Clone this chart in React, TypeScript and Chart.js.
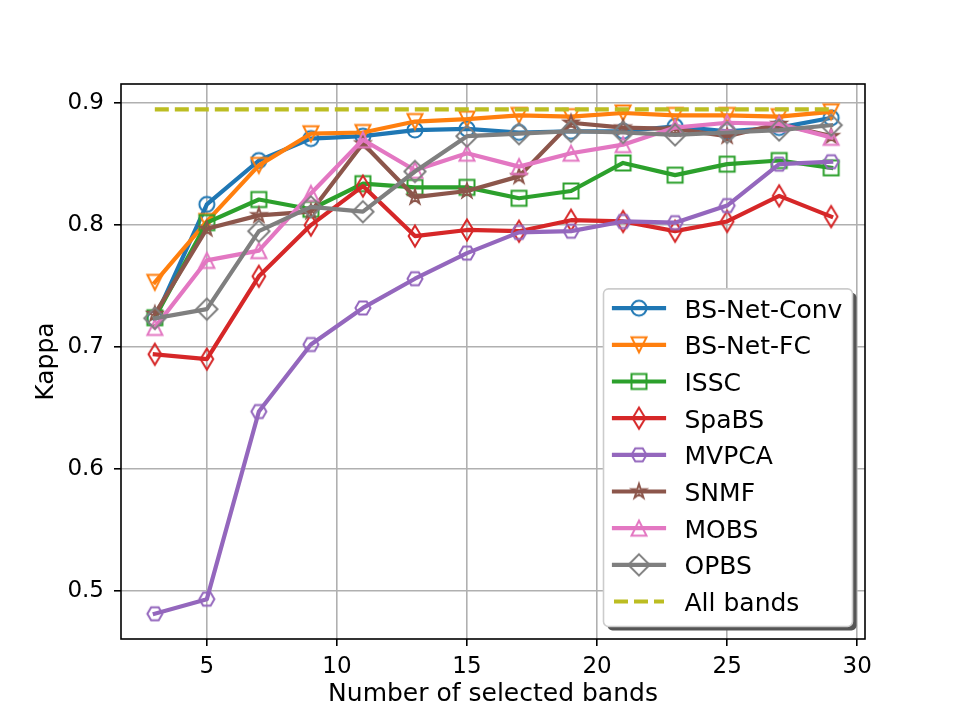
import { useEffect, useRef } from "react";
import { Chart, registerables } from "chart.js";

Chart.register(...registerables);

// Number of selected bands (x) and Kappa per method (y)
const bandCounts = [3, 5, 7, 9, 11, 13, 15, 17, 19, 21, 23, 25, 27, 29];

const bsNetConv = [0.723, 0.817, 0.853, 0.871, 0.873, 0.878, 0.879, 0.876, 0.877, 0.877, 0.881, 0.877, 0.880, 0.888];
const bsNetFc = [0.753, 0.803, 0.849, 0.875, 0.876, 0.885, 0.887, 0.890, 0.889, 0.892, 0.890, 0.890, 0.889, 0.893];
const issc = [0.724, 0.802, 0.821, 0.813, 0.834, 0.831, 0.831, 0.822, 0.828, 0.851, 0.841, 0.850, 0.853, 0.847];
const spaBs = [0.694, 0.690, 0.758, 0.800, 0.832, 0.791, 0.796, 0.795, 0.804, 0.803, 0.795, 0.803, 0.824, 0.807];
const mvpca = [0.481, 0.493, 0.647, 0.702, 0.732, 0.756, 0.777, 0.794, 0.795, 0.803, 0.802, 0.816, 0.850, 0.852];
const snmf = [0.727, 0.797, 0.808, 0.811, 0.867, 0.823, 0.828, 0.840, 0.884, 0.880, 0.879, 0.873, 0.883, 0.873];
const mobs = [0.716, 0.771, 0.779, 0.826, 0.870, 0.845, 0.859, 0.848, 0.859, 0.866, 0.880, 0.884, 0.883, 0.872];
const opbs = [0.7235, 0.731, 0.795, 0.815, 0.811, 0.844, 0.873, 0.875, 0.877, 0.876, 0.874, 0.876, 0.878, 0.882];
const allBandsKappa = 0.895;

const xTickValues = [5, 10, 15, 20, 25, 30];
const yTickValues = [0.5, 0.6, 0.7, 0.8, 0.9];

const seriesLabels = ["BS-Net-Conv", "BS-Net-FC", "ISSC", "SpaBS", "MVPCA", "SNMF", "MOBS", "OPBS"];
const seriesValues = [bsNetConv, bsNetFc, issc, spaBs, mvpca, snmf, mobs, opbs];
const seriesColors = ["#1f77b4", "#ff7f0e", "#2ca02c", "#d62728", "#9467bd", "#8c564b", "#e377c2", "#7f7f7f"];
const seriesShapes = ["circle", "triangleDown", "square", "thinDiamond", "hexagon", "star", "triangleUp", "diamond"];
const allBandsLabel = "All bands";
const allBandsColor = "#bcbd22";

const FONT = '"DejaVu Sans", "Liberation Sans", sans-serif';

// Hollow marker drawn once onto a small canvas and used as a point style
function makeMarker(shape: string, color: string, size = 15, lw = 2): HTMLCanvasElement {
  const c = document.createElement("canvas");
  c.width = 40;
  c.height = 40;
  const ctx = c.getContext("2d")!;
  ctx.translate(20, 20);
  ctx.strokeStyle = color;
  ctx.lineWidth = lw;
  ctx.lineJoin = "miter";
  const h = size / 2;
  const d = h * Math.SQRT2;
  ctx.beginPath();
  switch (shape) {
    case "circle":
      ctx.arc(0, 0, h, 0, Math.PI * 2);
      break;
    case "triangleDown":
      ctx.moveTo(0, h);
      ctx.lineTo(-h, -h);
      ctx.lineTo(h, -h);
      ctx.closePath();
      break;
    case "triangleUp":
      ctx.moveTo(0, -h);
      ctx.lineTo(-h, h);
      ctx.lineTo(h, h);
      ctx.closePath();
      break;
    case "square":
      ctx.rect(-h, -h, size, size);
      break;
    case "diamond":
      ctx.moveTo(0, -d);
      ctx.lineTo(d, 0);
      ctx.lineTo(0, d);
      ctx.lineTo(-d, 0);
      ctx.closePath();
      break;
    case "thinDiamond": {
      const w = d * 0.6;
      ctx.moveTo(0, -d);
      ctx.lineTo(w, 0);
      ctx.lineTo(0, d);
      ctx.lineTo(-w, 0);
      ctx.closePath();
      break;
    }
    case "hexagon":
      for (let k = 0; k < 6; k++) {
        const a = (k * Math.PI) / 3;
        const px = h * Math.cos(a);
        const py = h * Math.sin(a);
        if (k === 0) ctx.moveTo(px, py);
        else ctx.lineTo(px, py);
      }
      ctx.closePath();
      break;
    case "star": {
      const inner = h * 0.381966;
      for (let k = 0; k < 10; k++) {
        const a = -Math.PI / 2 + (k * Math.PI) / 5;
        const r = k % 2 === 0 ? h : inner;
        const px = r * Math.cos(a);
        const py = r * Math.sin(a);
        if (k === 0) ctx.moveTo(px, py);
        else ctx.lineTo(px, py);
      }
      ctx.closePath();
      break;
    }
  }
  ctx.stroke();
  return c;
}

// Full box around the plotting area
const framePlugin = {
  id: "frame",
  afterDatasetsDraw(chart: any) {
    const { ctx, chartArea: a } = chart;
    ctx.save();
    ctx.strokeStyle = "#000";
    ctx.lineWidth = 1.6;
    ctx.strokeRect(a.left, a.top, a.right - a.left, a.bottom - a.top);
    ctx.restore();
  },
};

// Axis titles
const axisTitlePlugin = {
  id: "axisTitles",
  afterDraw(chart: any) {
    const { ctx, chartArea: a } = chart;
    ctx.save();
    ctx.fillStyle = "#000";
    ctx.font = `25px ${FONT}`;
    ctx.textAlign = "center";
    ctx.textBaseline = "alphabetic";
    ctx.fillText("Number of selected bands", (a.left + a.right) / 2, 701);
    ctx.translate(53, (a.top + a.bottom) / 2);
    ctx.rotate(-Math.PI / 2);
    ctx.fillText("Kappa", 0, 0);
    ctx.restore();
  },
};

// Legend in the lower-right corner with a drop shadow
const legendPlugin = {
  id: "boxLegend",
  afterDraw(chart: any) {
    const { ctx, chartArea: a } = chart;
    const datasets = chart.data.datasets;
    const w = 249;
    const rowH = 36.67;
    const padTop = 19.3;
    const padBottom = 25;
    const hgt = padTop + padBottom + rowH * (datasets.length - 1);
    const x1 = a.right - 12.5;
    const y1 = a.bottom - 12.5;
    const x0 = x1 - w;
    const y0 = y1 - hgt;
    const r = 5;
    const box = (x: number, y: number) => {
      ctx.beginPath();
      ctx.roundRect(x, y, w, hgt, r);
    };
    ctx.save();
    box(x0 + 4, y0 + 4);
    ctx.fillStyle = "#555555";
    ctx.fill();
    box(x0, y0);
    ctx.fillStyle = "#ffffff";
    ctx.fill();
    ctx.strokeStyle = "#cccccc";
    ctx.lineWidth = 1.6;
    ctx.stroke();

    ctx.font = `25px ${FONT}`;
    ctx.textAlign = "left";
    ctx.textBaseline = "alphabetic";
    datasets.forEach((ds: any, i: number) => {
      const cy = y0 + padTop + i * rowH;
      ctx.save();
      ctx.strokeStyle = ds.borderColor;
      ctx.lineWidth = ds.borderWidth;
      ctx.setLineDash(ds.borderDash || []);
      ctx.lineCap = ds.borderDash ? "butt" : "square";
      ctx.beginPath();
      ctx.moveTo(x0 + 10.5, cy);
      ctx.lineTo(x0 + 60.5, cy);
      ctx.stroke();
      ctx.restore();
      if (ds.pointStyle instanceof HTMLCanvasElement) {
        const m = ds.pointStyle as HTMLCanvasElement;
        ctx.drawImage(m, x0 + 35.5 - m.width / 2, cy - m.height / 2);
      }
      ctx.fillStyle = "#000";
      ctx.fillText(ds.label, x0 + 81, cy + 9.5);
    });
    ctx.restore();
  },
};

export default function App() {
  const canvasRef = useRef<HTMLCanvasElement | null>(null);

  useEffect(() => {
    const canvas = canvasRef.current;
    if (!canvas) return;

    const n = seriesLabels.length;
    const datasets: any[] = seriesLabels.map((label, i) => ({
      label,
      data: bandCounts.map((x, j) => ({ x, y: seriesValues[i][j] })),
      borderColor: seriesColors[i],
      backgroundColor: "transparent",
      borderWidth: 4.2,
      borderJoinStyle: "round",
      borderCapStyle: "square",
      pointStyle: makeMarker(seriesShapes[i], seriesColors[i]),
      pointRadius: 7,
      pointHoverRadius: 7,
      tension: 0,
      fill: false,
      order: n + 1 - i,
    }));
    datasets.push({
      label: allBandsLabel,
      data: bandCounts.map((x) => ({ x, y: allBandsKappa })),
      borderColor: allBandsColor,
      backgroundColor: "transparent",
      borderWidth: 4.2,
      borderDash: [14, 6],
      borderCapStyle: "butt",
      pointRadius: 0,
      pointHoverRadius: 0,
      tension: 0,
      fill: false,
      order: 0,
    });

    const tickFont = { family: FONT, size: 23 };

    const chart = new Chart(canvas, {
      type: "line",
      data: { datasets },
      options: {
        animation: false,
        responsive: false,
        devicePixelRatio: 1,
        events: [],
        layout: { padding: { left: 0, top: 84, right: 96, bottom: 0 } },
        plugins: {
          legend: { display: false },
          tooltip: { enabled: false },
        },
        scales: {
          x: {
            type: "linear",
            min: 1.7,
            max: 30.3,
            afterBuildTicks: (scale: any) => {
              scale.ticks = xTickValues.map((value) => ({ value }));
            },
            afterFit: (scale: any) => {
              scale.height = 80;
            },
            ticks: {
              autoSkip: false,
              maxRotation: 0,
              color: "#000",
              font: tickFont,
              padding: 7,
              callback: (v: any) => String(v),
            },
            grid: {
              color: "#b0b0b0",
              lineWidth: 1.6,
              tickColor: "#000",
              tickLength: 7,
              tickWidth: 1.6,
            },
            border: { display: false },
          },
          y: {
            type: "linear",
            min: 0.4603,
            max: 0.9158,
            afterBuildTicks: (scale: any) => {
              scale.ticks = yTickValues.map((value) => ({ value }));
            },
            afterFit: (scale: any) => {
              scale.width = 121;
            },
            ticks: {
              autoSkip: false,
              color: "#000",
              font: tickFont,
              padding: 10,
              callback: (v: any) => Number(v).toFixed(1),
            },
            grid: {
              color: "#b0b0b0",
              lineWidth: 1.6,
              tickColor: "#000",
              tickLength: 7,
              tickWidth: 1.6,
            },
            border: { display: false },
          },
        },
      } as any,
      plugins: [framePlugin, axisTitlePlugin, legendPlugin],
    });

    return () => chart.destroy();
  }, []);

  return (
    <div style={{ position: "fixed", left: 0, top: 0, width: 961, height: 719, background: "#fff" }}>
      <canvas ref={canvasRef} width={961} height={719} style={{ display: "block" }} />
    </div>
  );
}
